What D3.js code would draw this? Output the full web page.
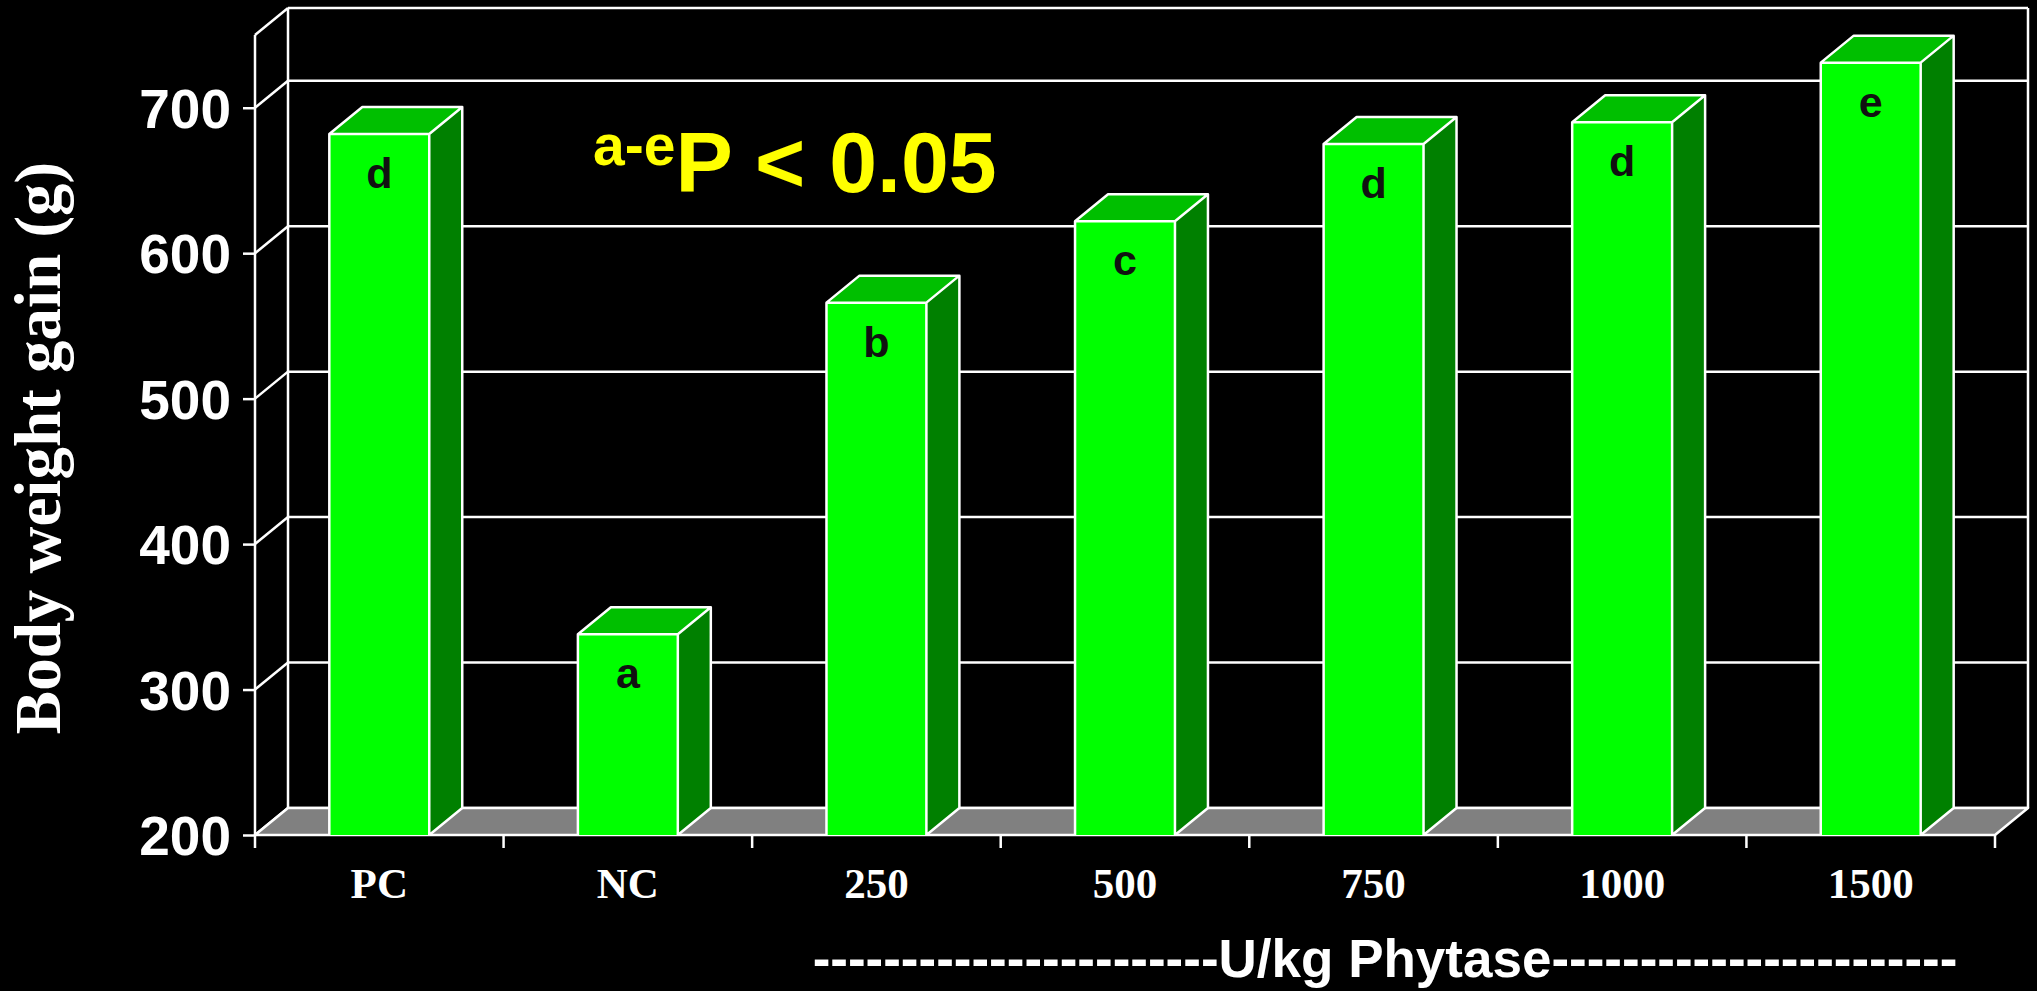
<!DOCTYPE html>
<html>
<head>
<meta charset="utf-8">
<script src="https://cdn.jsdelivr.net/npm/d3@7"></script>
<style>
  html, body { margin: 0; padding: 0; background: #000; overflow: hidden; }
  svg { display: block; }
  .sans { font-family: "Liberation Sans", Arial, sans-serif; font-weight: bold; }
  .serif { font-family: "Liberation Serif", "Times New Roman", serif; font-weight: bold; }
</style>
</head>
<body>
<div id="chart"></div>
<script>
// Data
const categories = ["PC", "NC", "250", "500", "750", "1000", "1500"];
const gain = [682, 338, 566, 622, 675, 690, 731];
const letters = ["d", "a", "b", "c", "d", "d", "e"];
const yTicks = [200, 300, 400, 500, 600, 700];

const COLORS = {
  front: "#00ff00",
  top: "#00bf00",
  side: "#008000",
  floor: "#808080",
  line: "#ffffff",
  note: "#ffff00",
};

const width = 2037, height = 991;
const depth = { dx: 33, dy: -27 };   // offset front plane -> back wall

const svg = d3.select("#chart").append("svg")
  .attr("width", width).attr("height", height);

svg.append("rect").attr("width", width).attr("height", height).attr("fill", "#000");

// Scales (front plane)
const y = d3.scaleLinear().domain([200, 750]).range([835, 35]);
const x = d3.scaleBand().domain(categories).range([255, 1995])
  .paddingInner(0.598).paddingOuter(0.299);

const x0 = x.range()[0], x1 = x.range()[1];
const yb = v => y(v) + depth.dy;     // back wall y
const line = (a, b, c, d) => svg.append("line")
  .attr("x1", a).attr("y1", b).attr("x2", c).attr("y2", d)
  .attr("stroke", COLORS.line).attr("stroke-width", 2.5);

// Back wall: gridlines and frame
const wallVals = yTicks.concat([750]);
wallVals.forEach(v => {
  line(x0 + depth.dx, yb(v), x1 + depth.dx, yb(v));
  line(x0, y(v), x0 + depth.dx, yb(v));
});
line(x0 + depth.dx, yb(750), x0 + depth.dx, yb(200));
line(x1 + depth.dx, yb(750), x1 + depth.dx, yb(200));

// Floor
svg.append("path")
  .attr("d", `M${x0},${y(200)}L${x1},${y(200)}L${x1 + depth.dx},${yb(200)}L${x0 + depth.dx},${yb(200)}Z`)
  .attr("fill", COLORS.floor)
  .attr("stroke", COLORS.line).attr("stroke-width", 2.5).attr("stroke-linejoin", "round");

// Y axis (front edge of left wall)
const yAxis = svg.append("g")
  .attr("transform", `translate(${x0},0)`)
  .call(d3.axisLeft(y).tickValues(yTicks).tickSize(12).tickSizeOuter(0).tickPadding(12));
yAxis.select(".domain").attr("stroke", COLORS.line).attr("stroke-width", 2.5)
  .attr("d", `M0,${y(750)}V${y(200)}`);
yAxis.selectAll(".tick line").attr("stroke", COLORS.line).attr("stroke-width", 2.5);
yAxis.selectAll(".tick text")
  .attr("class", "sans")
  .attr("fill", COLORS.line)
  .attr("font-size", 55)
  .attr("dy", "0.36em");

// X axis ticks at band boundaries
d3.range(categories.length + 1).forEach(i => {
  const tx = x0 + i * x.step();
  line(tx, y(200), tx, y(200) + 13);
});

svg.append("g").selectAll("text")
  .data(categories)
  .join("text")
  .attr("class", "serif")
  .attr("x", d => x(d) + x.bandwidth() / 2)
  .attr("y", 898)
  .attr("text-anchor", "middle")
  .attr("fill", COLORS.line)
  .attr("font-size", 43)
  .text(d => d);

// Bars
const bars = svg.append("g").selectAll("g")
  .data(categories.map((c, i) => ({ c, v: gain[i], l: letters[i] })))
  .join("g");

bars.append("path")   // side face
  .attr("d", d => {
    const r = x(d.c) + x.bandwidth();
    return `M${r},${y(200)}L${r + depth.dx},${yb(200)}L${r + depth.dx},${yb(d.v)}L${r},${y(d.v)}Z`;
  })
  .attr("fill", COLORS.side);

bars.append("path")   // top face
  .attr("d", d => {
    const l = x(d.c), r = l + x.bandwidth();
    return `M${l},${y(d.v)}L${l + depth.dx},${yb(d.v)}L${r + depth.dx},${yb(d.v)}L${r},${y(d.v)}Z`;
  })
  .attr("fill", COLORS.top);

bars.append("rect")   // front face
  .attr("x", d => x(d.c))
  .attr("y", d => y(d.v))
  .attr("width", x.bandwidth())
  .attr("height", d => y(200) - y(d.v))
  .attr("fill", COLORS.front);

bars.append("path")   // outlines
  .attr("d", d => {
    const l = x(d.c), r = l + x.bandwidth(), t = y(d.v), b = y(200);
    return `M${l},${b}V${t}H${r}V${b}` +
      `M${l},${t}L${l + depth.dx},${t + depth.dy}H${r + depth.dx}L${r},${t}` +
      `M${r + depth.dx},${t + depth.dy}V${b + depth.dy}L${r},${b}`;
  })
  .attr("fill", "none")
  .attr("stroke", COLORS.line).attr("stroke-width", 2.5).attr("stroke-linejoin", "round");

bars.append("text")
  .attr("class", "sans")
  .attr("x", d => x(d.c) + x.bandwidth() / 2)
  .attr("y", d => y(d.v) + 54)
  .attr("text-anchor", "middle")
  .attr("fill", "#111")
  .attr("font-size", 43)
  .text(d => d.l);

// Significance note
const note = svg.append("text")
  .attr("class", "sans")
  .attr("x", 593).attr("y", 192)
  .attr("fill", COLORS.note);
note.append("tspan").attr("font-size", 57).attr("dy", -27).text("a-e");
note.append("tspan").attr("font-size", 86).attr("dy", 27).text("P < 0.05");

// Y axis title
svg.append("text")
  .attr("class", "serif")
  .attr("transform", "translate(60,448) rotate(-90)")
  .attr("text-anchor", "middle")
  .attr("fill", COLORS.line)
  .attr("font-size", 65)
  .text("Body weight gain (g)");

// X axis title
const dashes = "-".repeat(23);
svg.append("text")
  .attr("class", "sans")
  .attr("x", 1385).attr("y", 977)
  .attr("text-anchor", "middle")
  .attr("fill", COLORS.line)
  .attr("font-size", 53)
  .text(`${dashes}U/kg Phytase${dashes}`);
</script>
</body>
</html>
